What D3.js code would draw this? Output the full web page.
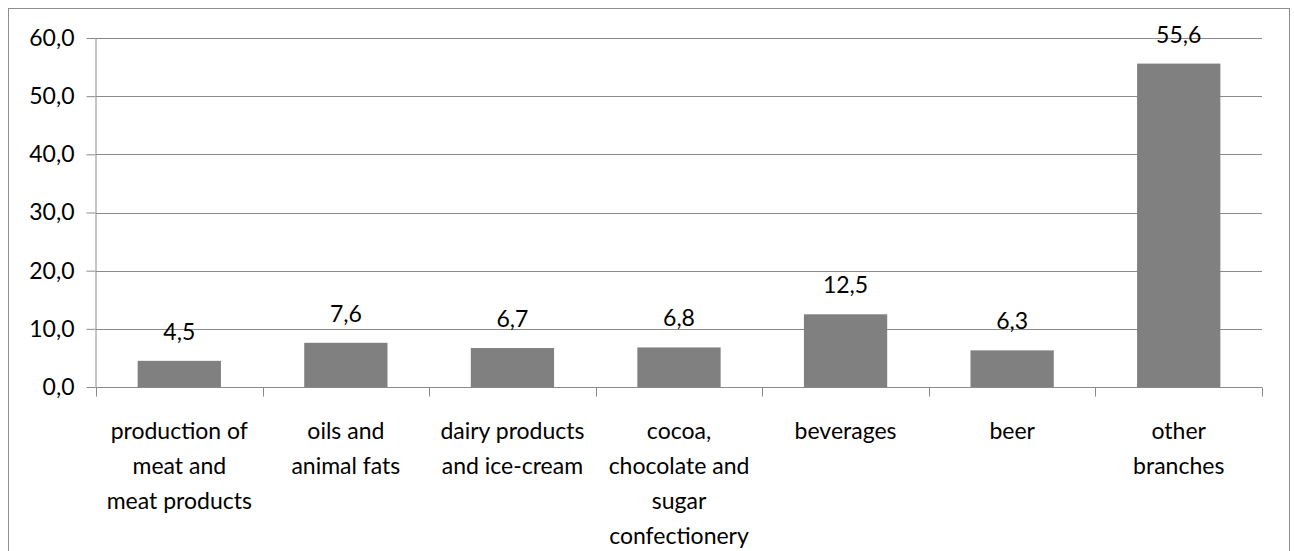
<!DOCTYPE html>
<html>
<head>
<meta charset="utf-8">
<script src="https://cdn.jsdelivr.net/npm/d3@7"></script>
<style>
  body { margin: 0; background: #fff; }
  svg text { font-family: Lato, "Open Sans", sans-serif; fill: #000; }
</style>
</head>
<body>
<div id="chart"></div>
<script>
const categories = ['meat', 'oils', 'dairy', 'cocoa', 'beverages', 'beer', 'other'];
const labelLines = [
  ['production of', 'meat and', 'meat products'],
  ['oils and', 'animal fats'],
  ['dairy products', 'and ice-cream'],
  ['cocoa,', 'chocolate and', 'sugar', 'confectionery'],
  ['beverages'],
  ['beer'],
  ['other', 'branches']
];
const values = [4.5, 7.6, 6.7, 6.8, 12.5, 6.3, 55.6];
const yTicks = [0, 10, 20, 30, 40, 50, 60];

const width = 1294, height = 551;
const margin = { top: 38, right: 32, bottom: 164, left: 96 };
const innerW = width - margin.left - margin.right;
const innerH = height - margin.top - margin.bottom;

const svg = d3.select('#chart').append('svg')
  .attr('width', width)
  .attr('height', height);

// outer chart border
svg.append('rect')
  .attr('x', 8.5).attr('y', 8.5)
  .attr('width', 1281).attr('height', 600)
  .attr('fill', 'none')
  .attr('stroke', '#8e8e8e');

const g = svg.append('g')
  .attr('transform', `translate(${margin.left},${margin.top})`);

const x = d3.scaleBand()
  .domain(categories)
  .range([0, innerW])
  .paddingInner(0.5)
  .paddingOuter(0.25);

const y = d3.scaleLinear()
  .domain([0, 60])
  .range([innerH, 0]);

const fmt = d => d3.format('.1f')(d).replace('.', ',');

// gridlines
g.append('g')
  .selectAll('line')
  .data(yTicks.filter(d => d > 0))
  .join('line')
  .attr('x1', 0).attr('x2', innerW)
  .attr('y1', d => Math.round(y(d)) + 0.5)
  .attr('y2', d => Math.round(y(d)) + 0.5)
  .attr('stroke', '#8a8a8a');

// y axis
const yAxis = g.append('g')
  .attr('transform', 'translate(-0.5,0)')
  .call(d3.axisLeft(y).tickValues(yTicks).tickSize(9).tickPadding(12).tickFormat(fmt));
yAxis.selectAll('line, path').attr('stroke', '#8a8a8a');
yAxis.select('.domain').attr('d', `M0.5,${y(60)}V${innerH + 0.5}`);
yAxis.selectAll('text').style('font-size', '23px');

// bars
g.append('g')
  .selectAll('rect')
  .data(values)
  .join('rect')
  .attr('x', (d, i) => x(categories[i]))
  .attr('y', d => y(d))
  .attr('width', x.bandwidth())
  .attr('height', d => innerH - y(d))
  .attr('fill', '#808080');

// value labels
g.append('g')
  .selectAll('text')
  .data(values)
  .join('text')
  .attr('x', (d, i) => x(categories[i]) + x.bandwidth() / 2)
  .attr('y', d => y(d) - 21)
  .attr('text-anchor', 'middle')
  .style('font-size', '23px')
  .text(fmt);

// x axis with ticks at category boundaries
const step = x.step();
const xAxis = g.append('g')
  .attr('transform', `translate(0,${Math.round(innerH) + 0.5})`);
xAxis.append('line')
  .attr('x1', 0).attr('x2', innerW)
  .attr('stroke', '#8a8a8a');
xAxis.selectAll('line.tick')
  .data(d3.range(categories.length + 1))
  .join('line')
  .attr('class', 'tick')
  .attr('x1', i => Math.round(i * step) + 0.5)
  .attr('x2', i => Math.round(i * step) + 0.5)
  .attr('y1', 0).attr('y2', 9)
  .attr('stroke', '#8a8a8a');

const labels = xAxis.selectAll('text')
  .data(labelLines)
  .join('text')
  .attr('text-anchor', 'middle')
  .attr('transform', (d, i) => `translate(${x(categories[i]) + x.bandwidth() / 2},51)`)
  .style('font-size', '23px');
labels.selectAll('tspan')
  .data(d => d)
  .join('tspan')
  .attr('x', 0)
  .attr('y', (d, j) => j * 35)
  .text(d => d);
</script>
</body>
</html>
